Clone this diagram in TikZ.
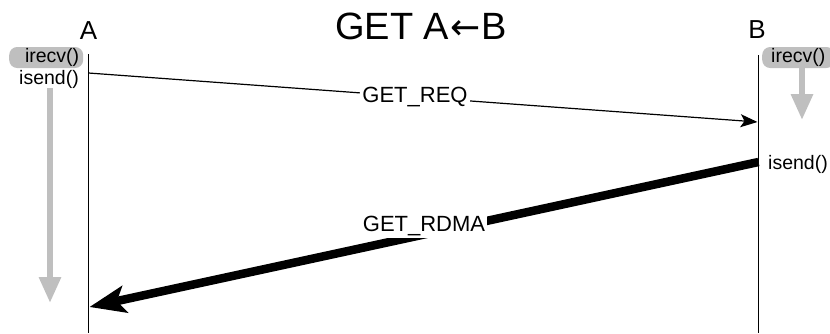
\documentclass[tikz,border=0pt]{standalone}
\usepackage{fontspec}
\setmainfont{Liberation Sans}
\newfontfamily\arrowfont{DejaVu Sans}
\usetikzlibrary{arrows.meta}

\tikzset{
  procname/.style={font=\fontsize{26}{28}\selectfont, inner sep=0pt},
  msglabel/.style={font=\fontsize{22}{24}\selectfont, fill=white, inner sep=2pt},
  callname/.style={font=\fontsize{19.5}{21}\selectfont, inner sep=0pt},
  callbox/.style={font=\fontsize{19.5}{21}\selectfont, fill=black!25,
    rounded corners=8pt, minimum height=21pt, inner ysep=0pt},
  waitarrow/.style={black!25, line width=6pt, -{Triangle[length=26pt,width=21pt]}},
}

\begin{document}
\begin{tikzpicture}[x=1pt, y=-1pt]
  \useasboundingbox (0,0) rectangle (830,333);

  \coordinate (Atop) at (88.5,54);
  \coordinate (Abot) at (88.5,333);
  \coordinate (Btop) at (758.5,55);
  \coordinate (Bbot) at (758.5,333);
  \coordinate (reqS) at (88.5,73);
  \coordinate (reqE) at (757.5,122);
  \coordinate (rdmaS) at (758.5,162);
  \coordinate (rdmaE) at (89.5,307);
  \coordinate (waitA) at (50,303);
  \coordinate (waitB) at (802,120);

  \node[font=\fontsize{38}{40}\selectfont, inner sep=0pt, anchor=base] (title) at (421,39)
    {GET A\kern1pt{\arrowfont\fontsize{36}{40}\selectfont ←}\kern1pt B};
  \node[procname, anchor=base] (A) at (88.5,39) {A};
  \node[procname, anchor=base] (B) at (757,38) {B};

  \draw[line width=1.3pt] (Atop) -- (Abot);
  \draw[line width=1.3pt] (Btop) -- (Bbot);

  % calls on A
  \node[callbox, text width=66pt, align=right, inner xsep=4pt, anchor=west] (recvA) at (9,57.5) {irecv()};
  \node[callname, anchor=base east] (sendA) at (79,84) {isend()};
  \draw[waitarrow] (sendA.south -| waitA) -- (waitA);

  % calls on B
  \node[callbox, inner xsep=9pt, anchor=west] (recvB) at (762,57.5) {irecv()};
  \node[callname, anchor=base west] (sendB) at (768,169) {isend()};
  \draw[waitarrow] (recvB.south -| waitB) -- (waitB);

  % messages
  \draw[line width=1.2pt, -{Stealth[length=17pt,width=13pt,inset=4pt]}] (reqS) -- (reqE)
    node[msglabel, pos=0.488] (req) {GET\_REQ};
  \draw[line width=8.5pt, -{Stealth[length=36pt,width=27pt,inset=8pt]}] (rdmaS) -- (rdmaE);
  \node[msglabel] (rdma) at (424,226) {GET\_RDMA};
\end{tikzpicture}
\end{document}
